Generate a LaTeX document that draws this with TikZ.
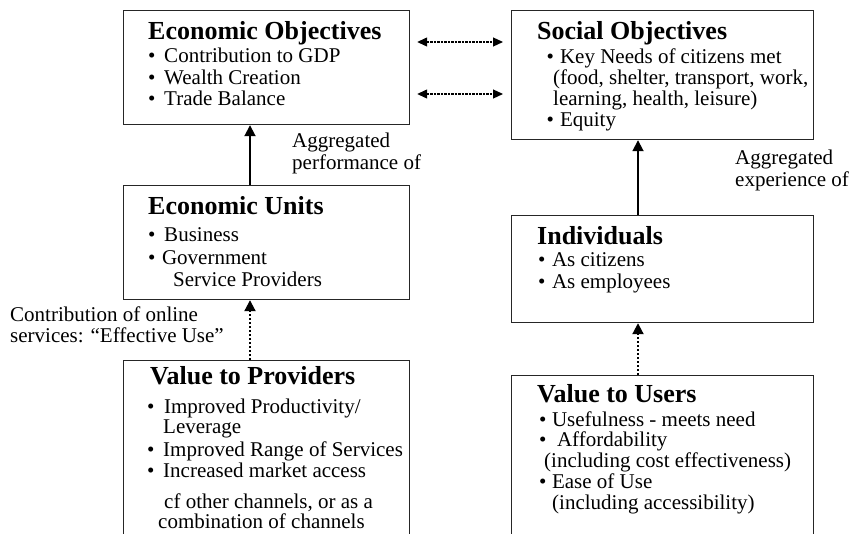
\documentclass[tikz,border=0pt]{standalone}
\usepackage{fontspec}
\setmainfont{Liberation Serif}
\usetikzlibrary{arrows.meta}

\tikzset{
  box/.style={draw=black!85, line width=1.2pt, rectangle, inner sep=0pt, anchor=north west},
  ttl/.style={anchor=base west, inner sep=0pt, font=\fontsize{26}{28}\selectfont\bfseries},
  ln/.style={anchor=base west, inner sep=0pt, font=\fontsize{21}{22}\selectfont},
  lbl/.style={anchor=base west, inner sep=0pt, font=\fontsize{21}{22}\selectfont},
  solidarrow/.style={line width=1.8pt, -{Triangle[width=11pt,length=11pt]}},
  dotarrow/.style={line width=2pt, dash pattern=on 2pt off 2pt, -{Triangle[width=11pt,length=11pt]}},
  dblarrow/.style={line width=1.2pt, dash pattern=on 2.2pt off 1.3pt,
    {Triangle[width=9pt,length=10pt]}-{Triangle[width=9pt,length=10pt]},
    shorten <=7pt, shorten >=8pt},
}

\begin{document}
\begin{tikzpicture}[x=1pt,y=-1pt]
\useasboundingbox (0,0) rectangle (852,534);
\clip (0,0) rectangle (852,534);

% ---- boxes ----
\node[box, minimum width=286pt, minimum height=114pt] (eo) at (123,10) {};
\node[box, minimum width=302pt, minimum height=129pt] (so) at (511,10) {};
\node[box, minimum width=286pt, minimum height=114pt] (eu) at (123,185) {};
\node[box, minimum width=302pt, minimum height=107pt] (ind) at (511,215) {};
\node[box, minimum width=286pt, minimum height=200pt] (vp) at (123,360) {};
\node[box, minimum width=302pt, minimum height=190pt] (vu) at (511,375) {};

% ---- Economic Objectives ----
\node[ttl] (eo-t) at (148,40) {Economic Objectives};
\node[ln] (eo-1) at (148,63) {•\hspace{8.7pt}Contribution to GDP};
\node[ln] (eo-2) at (148,84.5) {•\hspace{8.7pt}Wealth Creation};
\node[ln] (eo-3) at (148,106) {•\hspace{8.7pt}Trade Balance};

% ---- Social Objectives ----
\node[ttl] (so-t) at (537,40) {Social Objectives};
\node[ln] (so-1) at (546.5,64) {•\hspace{6pt}Key Needs of citizens met};
\node[ln] (so-2) at (553,85) {(food, shelter, transport, work,};
\node[ln] (so-3) at (553,106) {learning, health, leisure)};
\node[ln] (so-4) at (546.5,127) {•\hspace{6pt}Equity};

% ---- Economic Units ----
\node[ttl] (eu-t) at (148,215) {Economic Units};
\node[ln] (eu-1) at (148,242) {•\hspace{8.7pt}Business};
\node[ln] (eu-2) at (148,265) {•\hspace{6.5pt}Government};
\node[ln] (eu-3) at (173,287) {Service Providers};

% ---- Individuals ----
\node[ttl] (in-t) at (537,245) {Individuals};
\node[ln] (in-1) at (538,267) {•\hspace{6.5pt}As citizens};
\node[ln] (in-2) at (538,289) {•\hspace{6.5pt}As employees};

% ---- Value to Providers ----
\node[ttl] (vp-t) at (150,385) {Value to Providers};
\node[ln] (vp-1) at (147,414) {•\hspace{9.5pt}Improved Productivity/};
\node[ln] (vp-2) at (163,434) {Leverage};
\node[ln] (vp-3) at (147,457) {•\hspace{8.7pt}Improved Range of Services};
\node[ln] (vp-4) at (147,478) {•\hspace{8.7pt}Increased market access};
\node[ln] (vp-5) at (164,508) {cf other channels, or as a};
\node[ln] (vp-6) at (158,529) {combination of channels};

% ---- Value to Users ----
\node[ttl] (vu-t) at (537,403) {Value to Users};
\node[ln] (vu-1) at (539,427) {•\hspace{5.5pt}Usefulness - meets need};
\node[ln] (vu-2) at (539,447) {•\hspace{10.5pt}Affordability};
\node[ln] (vu-3) at (544,468) {(including cost effectiveness)};
\node[ln] (vu-4) at (539,489) {•\hspace{5.5pt}Ease of Use};
\node[ln] (vu-5) at (552,510) {(including accessibility)};

% ---- free labels ----
\node[lbl] (ap1) at (292,148) {Aggregated};
\node[lbl] (ap2) at (292,170) {performance of};
\node[lbl] (ae1) at (735,165) {Aggregated};
\node[lbl] (ae2) at (735,187) {experience of};
\node[lbl] (co1) at (10,322) {Contribution of online};
\node[lbl] (co2) at (10,343) {services: “Effective Use”};

% ---- connectors ----
\coordinate (lx) at (250,0);
\coordinate (rx) at (638,0);
\coordinate (d1) at (0,42);
\coordinate (d2) at (0,94);

\draw[solidarrow] (lx |- eu.north) -- (lx |- eo.south);
\draw[solidarrow] (rx |- ind.north) -- (rx |- so.south);
\draw[dotarrow] (lx |- vp.north) -- (lx |- eu.south);
\draw[dotarrow] (rx |- vu.north) -- (rx |- ind.south);
\draw[dblarrow] (eo.east |- d1) -- (so.west |- d1);
\draw[dblarrow] (eo.east |- d2) -- (so.west |- d2);
\end{tikzpicture}
\end{document}
